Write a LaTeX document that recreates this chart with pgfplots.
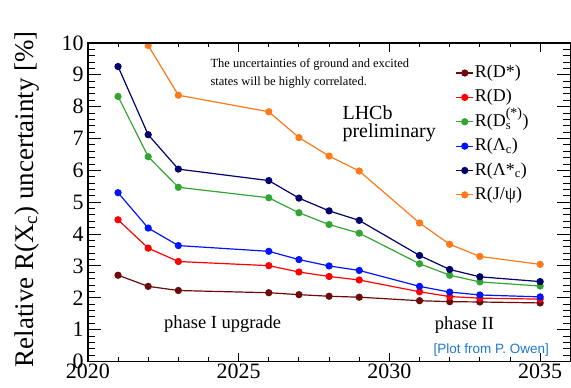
\documentclass[border=0pt]{standalone}
\usepackage{fontspec}
\setmainfont{Liberation Serif}
\newfontfamily\plotsans{Liberation Sans}
\usepackage{amsmath}
\usepackage{pgfplots}
\pgfplotsset{compat=1.18}
\definecolor{cDst}{RGB}{110,10,10}
\definecolor{cD}{RGB}{255,0,0}
\definecolor{cDs}{RGB}{50,165,50}
\definecolor{cLc}{RGB}{0,20,255}
\definecolor{cLcs}{RGB}{0,0,110}
\definecolor{cJ}{RGB}{255,120,25}
\definecolor{cOwen}{RGB}{30,120,210}
\begin{document}
\begin{tikzpicture}
\begin{axis}[
  name=main,
  scale only axis, width=483pt, height=319pt,
  xmin=2020, xmax=2036, ymin=0, ymax=10,
  axis line style={line width=1.4pt},
  tick align=inside,
  xtick={2020,2025,2030,2035}, minor x tick num=4,
  ytick=\empty,
  major tick length=9pt, minor tick length=4.5pt,
  every tick/.style={black, line width=1pt},
  xticklabel style={font=\fontsize{22}{22}\selectfont, inner sep=2pt},
  /pgf/number format/assume math mode=true,
  /pgf/number format/1000 sep={},
  legend style={draw=none, fill=none, at={(rel axis cs:0.762,0.936)}, anchor=north west,
    font=\fontsize{18}{18}\selectfont, row sep=5.4pt, inner sep=0pt,
    nodes={inner sep=1pt, text height=13pt, text depth=4pt}},
  legend cell align=left,
  legend image code/.code={\draw[mark repeat=2,mark phase=2,line width=1.2pt] plot coordinates {(0pt,0pt)(8.5pt,0pt)(17pt,0pt)};},
  every axis plot/.append style={line width=1.2pt, mark=*, mark size=3pt},
  clip=true,
]
\addplot[color=cDst, mark options={fill=cDst}] coordinates {
 (2021,2.71) (2022,2.36) (2023,2.23) (2026,2.16) (2027,2.10) (2028,2.05) (2029,2.02) (2031,1.91) (2032,1.88) (2033,1.87) (2035,1.84)};
\addlegendentry{R(D*)}
\addplot[color=cD, mark options={fill=cD}] coordinates {
 (2021,4.45) (2022,3.56) (2023,3.14) (2026,3.01) (2027,2.81) (2028,2.67) (2029,2.56) (2031,2.19) (2032,2.04) (2033,1.99) (2035,1.96)};
\addlegendentry{R(D)}
\addplot[color=cDs, mark options={fill=cDs}] coordinates {
 (2021,8.32) (2022,6.43) (2023,5.47) (2026,5.14) (2027,4.67) (2028,4.30) (2029,4.03) (2031,3.07) (2032,2.71) (2033,2.50) (2035,2.37)};
\addlegendentry{R(D$_{\text{s}}^{\text{\fontsize{14}{14}\selectfont(*)}}$)}
\addplot[color=cLc, mark options={fill=cLc}] coordinates {
 (2021,5.30) (2022,4.19) (2023,3.64) (2026,3.46) (2027,3.20) (2028,3.00) (2029,2.86) (2031,2.36) (2032,2.18) (2033,2.09) (2035,2.03)};
\addlegendentry{R(Λ$_{\text{c}}$)}
\addplot[color=cLcs, mark options={fill=cLcs}] coordinates {
 (2021,9.26) (2022,7.12) (2023,6.04) (2026,5.68) (2027,5.13) (2028,4.73) (2029,4.43) (2031,3.33) (2032,2.89) (2033,2.66) (2035,2.51)};
\addlegendentry{R(Λ*$_{\text{c}}$)}
\addplot[color=cJ, mark options={fill=cJ}] coordinates {
 (2022,9.92) (2023,8.36) (2026,7.84) (2027,7.03) (2028,6.45) (2029,5.98) (2031,4.35) (2032,3.68) (2033,3.30) (2035,3.05)};
\addlegendentry{R(J/ψ)}
\node[anchor=base west, font=\fontsize{12.5}{12.5}\selectfont, align=left] at (axis cs:2023.95,9.24) {The uncertainties of ground and excited};
\node[anchor=base west, font=\fontsize{12.5}{12.5}\selectfont, align=left] at (axis cs:2023.95,8.68) {states will be highly correlated.};
\node[anchor=base west, font=\fontsize{20}{20}\selectfont] at (axis cs:2028.33,7.59) {LHCb};
\node[anchor=base west, font=\fontsize{20}{20}\selectfont] at (axis cs:2028.33,7.02) {preliminary};
\node[anchor=base, font=\fontsize{18.5}{18.5}\selectfont] at (axis cs:2024.47,1.03) {phase I upgrade};
\node[anchor=base, font=\fontsize{18.5}{18.5}\selectfont] at (axis cs:2032.49,1.02) {phase II};
\node[anchor=base, font=\plotsans\fontsize{13.5}{13.5}\selectfont, text=cOwen] at (axis cs:2033.38,0.25) {[Plot from P. Owen]};
\end{axis}
\begin{axis}[
  scale only axis, width=483pt, height=319pt,
  xmin=2020, xmax=2036, ymin=0, ymax=10,
  axis line style={line width=1.4pt},
  tick align=inside,
  xtick=\empty,
  ytick={0,1,...,10}, minor y tick num=4,
  major tick length=13pt, minor tick length=7pt,
  every tick/.style={black, line width=1pt},
  yticklabel style={font=\fontsize{22}{22}\selectfont, inner sep=4pt},
  /pgf/number format/assume math mode=true,
  ylabel={Relative R(X$_{\text{c}}$) uncertainty [\%]},
  every axis y label/.style={at={(axis description cs:0,0.5)}, xshift=-61pt, yshift=3pt, rotate=90, anchor=center, font=\fontsize{27}{27}\selectfont},
]
\end{axis}
\pgfresetboundingbox
\path ([shift={(-88pt,-26pt)}]main.south west) rectangle ([shift={(0.7pt,43pt)}]main.north east);
\end{tikzpicture}
\end{document}
